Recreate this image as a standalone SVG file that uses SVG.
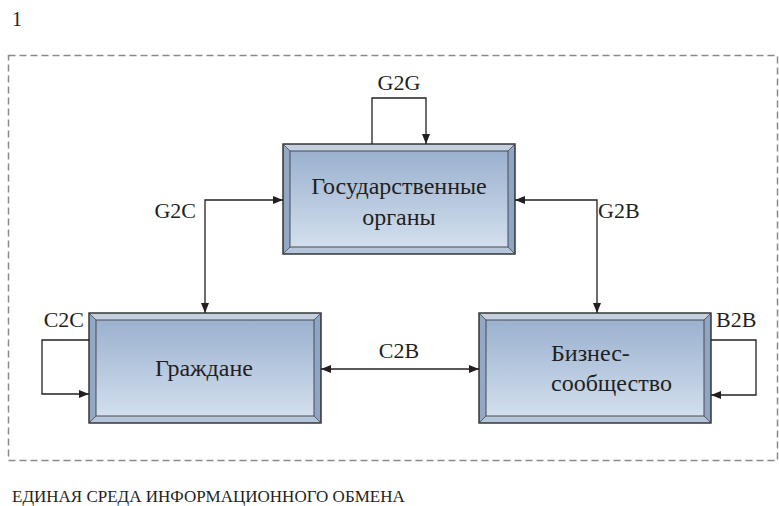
<svg xmlns="http://www.w3.org/2000/svg" xmlns:xlink="http://www.w3.org/1999/xlink" width="779" height="506" viewBox="0 0 779 506">
<style>
.t{font-family:'Liberation Serif','Times New Roman',serif;fill:#231f20}
.lbl{font-size:22px}
.box{font-size:24px}
.cn{fill:none;stroke:#231f20;stroke-width:1.3}
</style>
<defs>
<linearGradient id="g" x1="0" y1="0" x2="0" y2="1">
<stop offset="0" stop-color="#9bb1cf"/>
<stop offset="1" stop-color="#d2dfee"/>
</linearGradient>
<marker id="ah" viewBox="0 0 10 8" refX="10" refY="4" markerWidth="10" markerHeight="8" markerUnits="userSpaceOnUse" orient="auto-start-reverse">
<path d="M0,0 L10,4 L0,8 Z" fill="#231f20"/>
</marker>
<g id="bx">
<polygon points="0,0 232,0 225,7 7,7" fill="#c4d0e0"/>
<polygon points="0,0 7,7 7,103 0,110" fill="#92a8c7"/>
<polygon points="232,0 232,110 225,103 225,7" fill="#8ea5c4"/>
<polygon points="0,110 7,103 225,103 232,110" fill="#b5c6dc"/>
<rect x="7" y="7" width="218" height="96" fill="url(#g)" stroke="#4a4a4a" stroke-width="1"/>
<rect x="0" y="0" width="232" height="110" fill="none" stroke="#2a2a2a" stroke-width="1.4"/>
<path d="M0,0 L7,7 M232,0 L225,7 M0,110 L7,103 M232,110 L225,103" stroke="#444" stroke-width="0.8"/>
</g>
</defs>
<rect width="779" height="506" fill="#fff"/>
<text x="12" y="26" class="t" font-size="20">1</text>
<rect x="8.5" y="55.5" width="769" height="405" fill="none" stroke="#8a8a8a" stroke-width="1.5" stroke-dasharray="7,4"/>

<g id="gov">
<use xlink:href="#bx" transform="translate(283,144)"/>
<text x="399" y="194" class="t box" text-anchor="middle">Государственные</text>
<text x="399" y="225" class="t box" text-anchor="middle">органы</text>
</g>
<g id="citizens">
<use xlink:href="#bx" transform="translate(89,313)"/>
<text x="204" y="376" class="t box" text-anchor="middle">Граждане</text>
</g>
<g id="business">
<use xlink:href="#bx" transform="translate(479,313)"/>
<text x="551" y="361" class="t box">Бизнес-</text>
<text x="551" y="391" class="t box">сообщество</text>
</g>

<g id="connectors">
<path class="cn" d="M372,144 V98 H426 V144" marker-end="url(#ah)"/>
<path class="cn" d="M283,200 H205 V313" marker-start="url(#ah)" marker-end="url(#ah)"/>
<path class="cn" d="M515,200 H597 V313" marker-start="url(#ah)" marker-end="url(#ah)"/>
<path class="cn" d="M321,369 H479" marker-start="url(#ah)" marker-end="url(#ah)"/>
<path class="cn" d="M89,340 H42 V394 H89" marker-end="url(#ah)"/>
<path class="cn" d="M711,340 H756 V395 H711" marker-end="url(#ah)"/>
</g>
<g id="labels">
<text x="399" y="90" class="t lbl" text-anchor="middle">G2G</text>
<text x="196" y="218" class="t lbl" text-anchor="end">G2C</text>
<text x="598" y="218" class="t lbl">G2B</text>
<text x="399" y="358" class="t lbl" text-anchor="middle">C2B</text>
<text x="84" y="327" class="t lbl" text-anchor="end">C2C</text>
<text x="716" y="327" class="t lbl">B2B</text>
</g>
<text x="12" y="502" class="t" font-size="17">ЕДИНАЯ СРЕДА ИНФОРМАЦИОННОГО ОБМЕНА</text>
</svg>
